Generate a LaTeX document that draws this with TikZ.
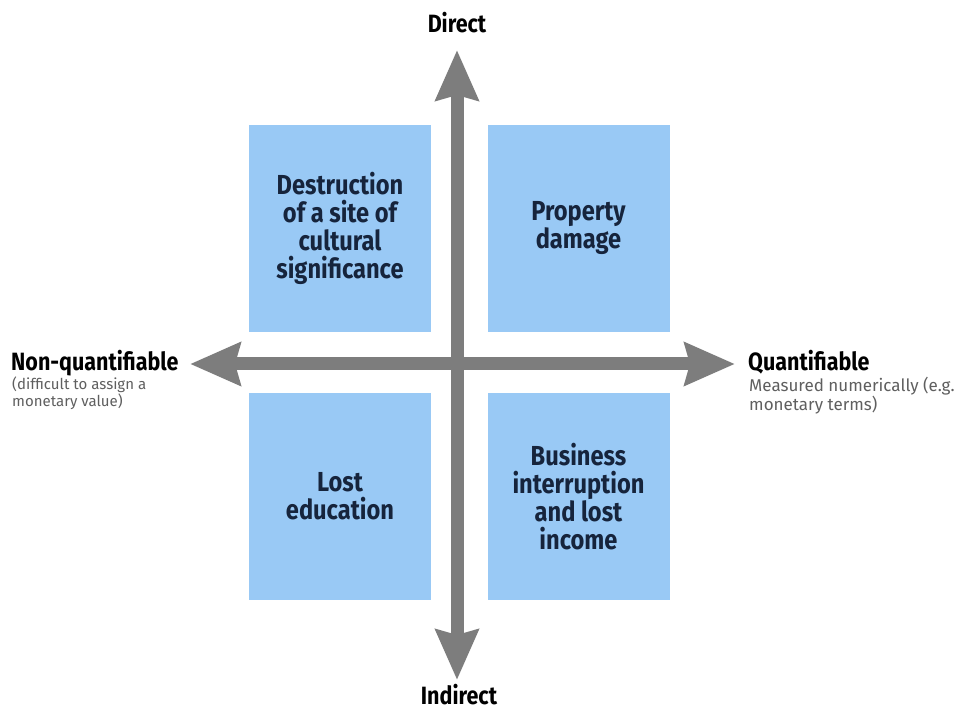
\documentclass[tikz,border=0pt]{standalone}
\usepackage{fontspec}
\setmainfont{Fira Sans}[FakeStretch=0.86]
\newfontfamily\subfont{Fira Sans}
\usetikzlibrary{arrows.meta}
\definecolor{boxblue}{RGB}{153,201,245}
\definecolor{boxtext}{RGB}{22,36,60}
\definecolor{axisgray}{RGB}{125,125,125}
\definecolor{subgray}{RGB}{95,95,95}
\tikzset{
  quad/.style={fill=boxblue, draw=none, minimum width=182pt, minimum height=207pt,
    inner sep=0pt, align=center, text=boxtext, font=\bfseries\fontsize{27.5}{28}\selectfont},
  axislabel/.style={inner sep=0pt, text=black, font=\bfseries\fontsize{25}{26}\selectfont},
  sublabel/.style={inner sep=0pt, align=left, text=subgray, font=\subfont\fontsize{15}{14}\selectfont},
  sublabelR/.style={sublabel, font=\subfont\fontsize{17}{14.5}\selectfont},
  axis/.style={draw=axisgray, line width=13pt,
    {Stealth[length=50pt,width=42pt,inset=5pt]}-{Stealth[length=50pt,width=42pt,inset=5pt]}}
}
\begin{document}
\begin{tikzpicture}[x=1pt,y=-1pt]
\useasboundingbox (0,0) rectangle (962,711);
\fill[white] (0,0) rectangle (962,711);
% quadrant boxes
\node[quad] (tl) at (340,228.5) {Destruction\\of a site of\\cultural\\significance};
\node[quad] (tr) at (578.5,228.5) {Property\\damage};
\node[quad] (bl) at (340,496.5) {Lost\\education};
\node[quad] (br) at (578.5,496.5) {Business\\interruption\\and lost\\income};
% axes
\coordinate (top) at (457,50);
\coordinate (bottom) at (457,680);
\coordinate (left) at (190,364);
\coordinate (right) at (735,364);
\draw[axis] (bottom) -- (top);
\draw[axis] (left) -- (right);
% labels
\node[axislabel, anchor=base] (direct) at (457,33) {Direct};
\node[axislabel, anchor=base] (indirect) at (459,704) {Indirect};
\node[axislabel, anchor=base west] (nq) at (11,371) {Non-quantifiable};
\node[sublabel, anchor=north west] (nqs) at (12,377) {(difficult to assign a\\monetary value)};
\node[axislabel, anchor=base west] (q) at (748,371) {Quantifiable};
\node[sublabelR, anchor=north west] (qs) at (749,377) {Measured numerically (e.g.\\monetary terms)};
\end{tikzpicture}
\end{document}
